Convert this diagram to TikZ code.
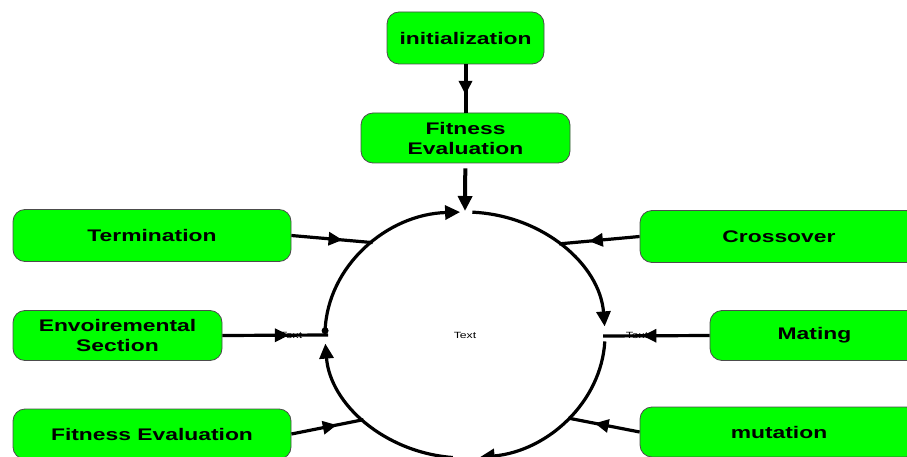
\documentclass[tikz,border=0pt]{standalone}
\usepackage{fontspec}
\setmainfont{Liberation Sans}
\newfontfamily\boxfont[FakeStretch=1.36]{Liberation Sans}
\usetikzlibrary{arrows.meta}
\usetikzlibrary{decorations.markings}
\usetikzlibrary{positioning}
\definecolor{boxgreen}{RGB}{0,255,0}

\begin{document}
\begin{tikzpicture}[x=1pt, y=-1pt, font=\boxfont\bfseries\fontsize{16.8}{20}\selectfont]
  \tikzstyle{box}=[rectangle, rounded corners=12pt, fill=boxgreen, draw=black!70, line width=0.8pt, align=center, inner sep=0pt]
  \tikzstyle{widebox}=[box, minimum width=278pt, minimum height=52pt]
  \tikzstyle{narrowbox}=[box, minimum width=209pt, minimum height=50pt]
  \tikzstyle{tiny}=[font=\boxfont\fontsize{9}{10}\selectfont, inner sep=0pt]
  \tikzstyle{link}=[line width=3.2pt, postaction={decorate}, decoration={markings, mark=at position 0.63 with {\arrow{Triangle[length=14pt,width=13pt]}}}]
  \tikzstyle{loop}=[line width=3.2pt, -{Triangle[length=15pt,width=14pt]}]
  \useasboundingbox (0,0) rectangle (907,457);

  % the loop
  \node (ring) [tiny] at (465,335) {Text};
  \node (ltext) [tiny] at (291,335) {Text};
  \node (rtext) [tiny] at (637,335) {Text};

  \path (ring.center) ++(270:140 and 124) coordinate (ttop);
  \path (ring.center) ++(228.7:140 and 123) coordinate (tin);
  \path (ring.center) ++(312.2:140 and 123) coordinate (cin);
  \path (ring.center) ++(42.5:140 and 123) coordinate (min);
  \path (ring.center) ++(136.5:140 and 123) coordinate (fin);
  \coordinate (lin) at (328,335);
  \coordinate (rin) at (603,336);

  \draw[loop] (ring.center) ++(182:140 and 123) coordinate (dot) arc[start angle=182, end angle=268, x radius=140, y radius=123];
  \draw[loop] (ring.center) ++(273:140 and 123) arc[start angle=273, end angle=356, x radius=140, y radius=123];
  \draw[loop] (ring.center) ++(3:140 and 123) arc[start angle=3, end angle=84, x radius=140, y radius=123];
  \draw[loop] (ring.center) ++(95:140 and 123) arc[start angle=95, end angle=176, x radius=140, y radius=123];
  \fill (dot) circle (3.5);

  % boxes
  \node (init) [box, minimum width=157pt, minimum height=52pt] at (465.5,38) {initialization};
  \node (topfe) [narrowbox] at (465.5,138) {Fitness\\Evaluation};
  \node (term) [widebox] at (152,235.5) {Termination};
  \node (env) [narrowbox] at (117.5,335.5) {Envoiremental\\Section};
  \node (botfe) [widebox, minimum height=50pt] at (152,434) {Fitness Evaluation};
  \node (cross) [widebox] at (779,236.5) {Crossover};
  \node (mating) [narrowbox] at (814.5,335.5) {Mating};
  \node (mut) [widebox, minimum height=50pt] at (779,432) {mutation};

  \draw[link, line width=4pt] (init) -- (topfe);
  \draw[loop, line width=4pt, shorten <=5pt] (topfe) -- (ttop);
  \draw[link] (term.east) -- (tin);
  \draw[link] (env.east) -- (lin);
  \draw[link] (botfe.east) -- (fin);
  \draw[link] (cross.west) -- (cin);
  \draw[link] (mating.west) -- (rin);
  \draw[link] (mut.west) -- (min);
\end{tikzpicture}
\end{document}
